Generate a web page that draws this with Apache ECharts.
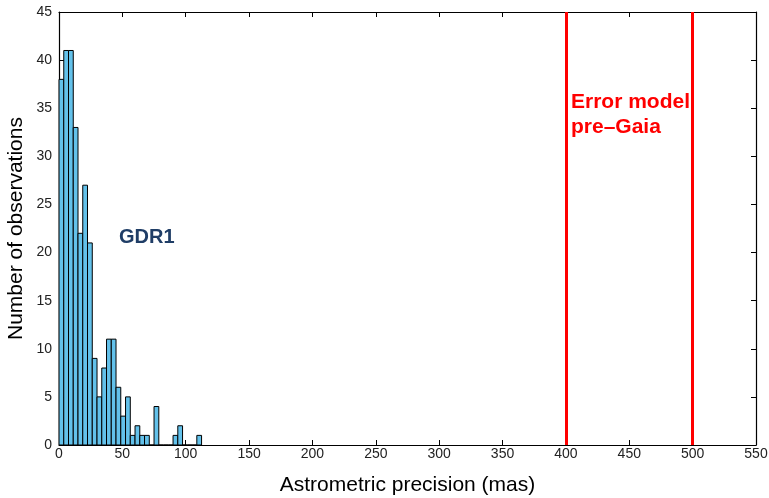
<!DOCTYPE html>
<html>
<head>
<meta charset="utf-8">
<script src="https://cdn.jsdelivr.net/npm/echarts@6/dist/echarts.min.js"></script>
<style>html,body{margin:0;padding:0;background:#fff}#c{width:769px;height:498px}</style>
</head>
<body>
<div id="c"></div>
<script>
// Histogram bin edges (mas) and counts per bin
const binEdges = [0, 3.75, 7.5, 11.25, 15, 18.75, 22.5, 26.25, 30, 33.75, 37.5, 41.25, 45, 48.75, 52.5, 56.25, 60, 63.75, 67.5, 71.25, 75, 78.75, 82.5, 86.25, 90, 93.75, 97.5, 101.25, 105, 108.75, 112.5];
const counts = [38, 41, 41, 33, 22, 27, 21, 9, 5, 8, 11, 11, 6, 3, 5, 1, 2, 1, 1, 0, 4, 0, 0, 0, 1, 2, 0, 0, 0, 1];
// Pre-Gaia error model limits (mas)
const errorModelLines = [400, 500];
const xTicks = [0, 50, 100, 150, 200, 250, 300, 350, 400, 450, 500, 550];
const yTicks = [0, 5, 10, 15, 20, 25, 30, 35, 40, 45];

const histData = counts.map((c, i) => [binEdges[i], binEdges[i + 1], c]);

const chart = echarts.init(document.getElementById('c'), null, {renderer: 'canvas'});
const font = 'Liberation Sans, Arial, Helvetica, sans-serif';
const axisCommon = {
  axisLine: {show: true, onZero: false, lineStyle: {color: '#000', width: 1.2}},
  axisTick: {show: true, inside: true, length: 5, lineStyle: {color: '#000'}},
  splitLine: {show: false}
};
chart.setOption({
  animation: false,
  grid: {left: 59, right: 13, top: 12, bottom: 53, containLabel: false, outerBoundsMode: 'none'},
  xAxis: [
    Object.assign({type: 'value', min: 0, max: 550, interval: 50, position: 'bottom',
      name: 'Astrometric precision (mas)', nameLocation: 'middle', nameGap: 30,
      nameMoveOverlap: false,
      nameTextStyle: {fontFamily: font, fontSize: 21, color: '#000'},
      axisLabel: {fontFamily: font, fontSize: 14, color: '#222', margin: 2,
        formatter: v => xTicks.includes(v) ? String(v) : ''}}, axisCommon),
    Object.assign({type: 'value', min: 0, max: 550, interval: 50, position: 'top',
      axisLabel: {show: false}}, axisCommon)
  ],
  yAxis: [
    Object.assign({type: 'value', min: 0, max: 45, interval: 5, position: 'left',
      name: 'Number of observations', nameLocation: 'middle', nameGap: 32,
      nameMoveOverlap: false,
      nameTextStyle: {fontFamily: font, fontSize: 21, color: '#000'},
      axisLabel: {fontFamily: font, fontSize: 14, color: '#222', margin: 7,
        verticalAlign: 'middle',
        formatter: v => yTicks.includes(v) ? String(v) : ''}}, axisCommon),
    Object.assign({type: 'value', min: 0, max: 45, interval: 5, position: 'right',
      axisLabel: {show: false}}, axisCommon)
  ],
  series: [{
    type: 'custom',
    xAxisIndex: 0, yAxisIndex: 0,
    data: histData,
    renderItem: function (params, api) {
      const x0 = api.value(0), x1 = api.value(1), h = api.value(2);
      const p0 = api.coord([x0, 0]);
      const p1 = api.coord([x1, h]);
      return {
        type: 'rect',
        shape: {x: p0[0], y: p1[1], width: p1[0] - p0[0], height: p0[1] - p1[1]},
        style: {fill: '#63c1ea', stroke: '#000', lineWidth: 1}
      };
    },
    encode: {x: [0, 1], y: 2},
    markLine: {
      symbol: 'none', silent: true,
      label: {show: false},
      lineStyle: {color: '#ff0000', width: 3, type: 'solid'},
      data: errorModelLines.map(v => ({xAxis: v}))
    },
    z: 2
  }],
  graphic: [
    {type: 'text', left: 119, top: 227,
      style: {text: 'GDR1', fontFamily: font, fontSize: 20, fontWeight: 'bold', fill: '#1f3d66'}},
    {type: 'text', left: 571, top: 90,
      style: {text: 'Error model\npre\u2013Gaia', fontFamily: font, fontSize: 21, fontWeight: 'bold', fill: '#ff0000', lineHeight: 25}}
  ]
});
</script>
</body>
</html>
